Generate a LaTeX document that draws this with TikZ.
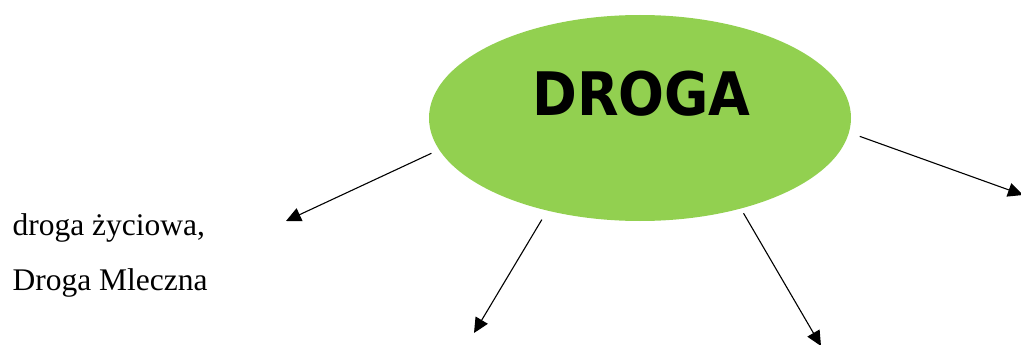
\documentclass[tikz,border=0pt]{standalone}
\usepackage{fontspec}
\setmainfont{Liberation Serif}
\newfontfamily\titlefont{DejaVu Sans Bold}[FakeStretch=0.9]
\usetikzlibrary{arrows.meta,shapes.geometric}
\definecolor{leafgreen}{RGB}{146,208,80}
\begin{document}
\begin{tikzpicture}[x=1pt, y=-1pt, >={Triangle[length=15pt,width=14pt]}, line width=1.1pt]
	\useasboundingbox (0,0) rectangle (1021,345);
	\clip (0,0) rectangle (1021,345);
	\node[ellipse, fill=leafgreen, minimum width=422pt, minimum height=206pt, inner sep=0pt] (droga) at (640,118) {};
	\node[inner sep=0pt, anchor=base] (title) at (641.5,116) {\titlefont\fontsize{60}{60}\selectfont DROGA};
	\node[inner sep=0pt, anchor=base west] (life) at (12,235) {\fontsize{31.5}{33}\selectfont droga życiowa,};
	\node[inner sep=0pt, anchor=base west] (milky) at (12,290) {\fontsize{31.5}{33}\selectfont Droga Mleczna};
	
	\coordinate (tipa) at (286,221);
	\coordinate (tipb) at (474,333);
	\coordinate (tipc) at (821,346);
	\coordinate (tipd) at (1023,195);
	
	\draw[->, shorten <=8pt] (droga.189) -- (tipa);
	\draw[->, shorten <=10pt] (droga.225) -- (tipb);
	\draw[->, shorten <=5pt] (droga.318) -- (tipc);
	\draw[->, shorten <=11pt] (droga.356) -- (tipd);
\end{tikzpicture}
\end{document}
